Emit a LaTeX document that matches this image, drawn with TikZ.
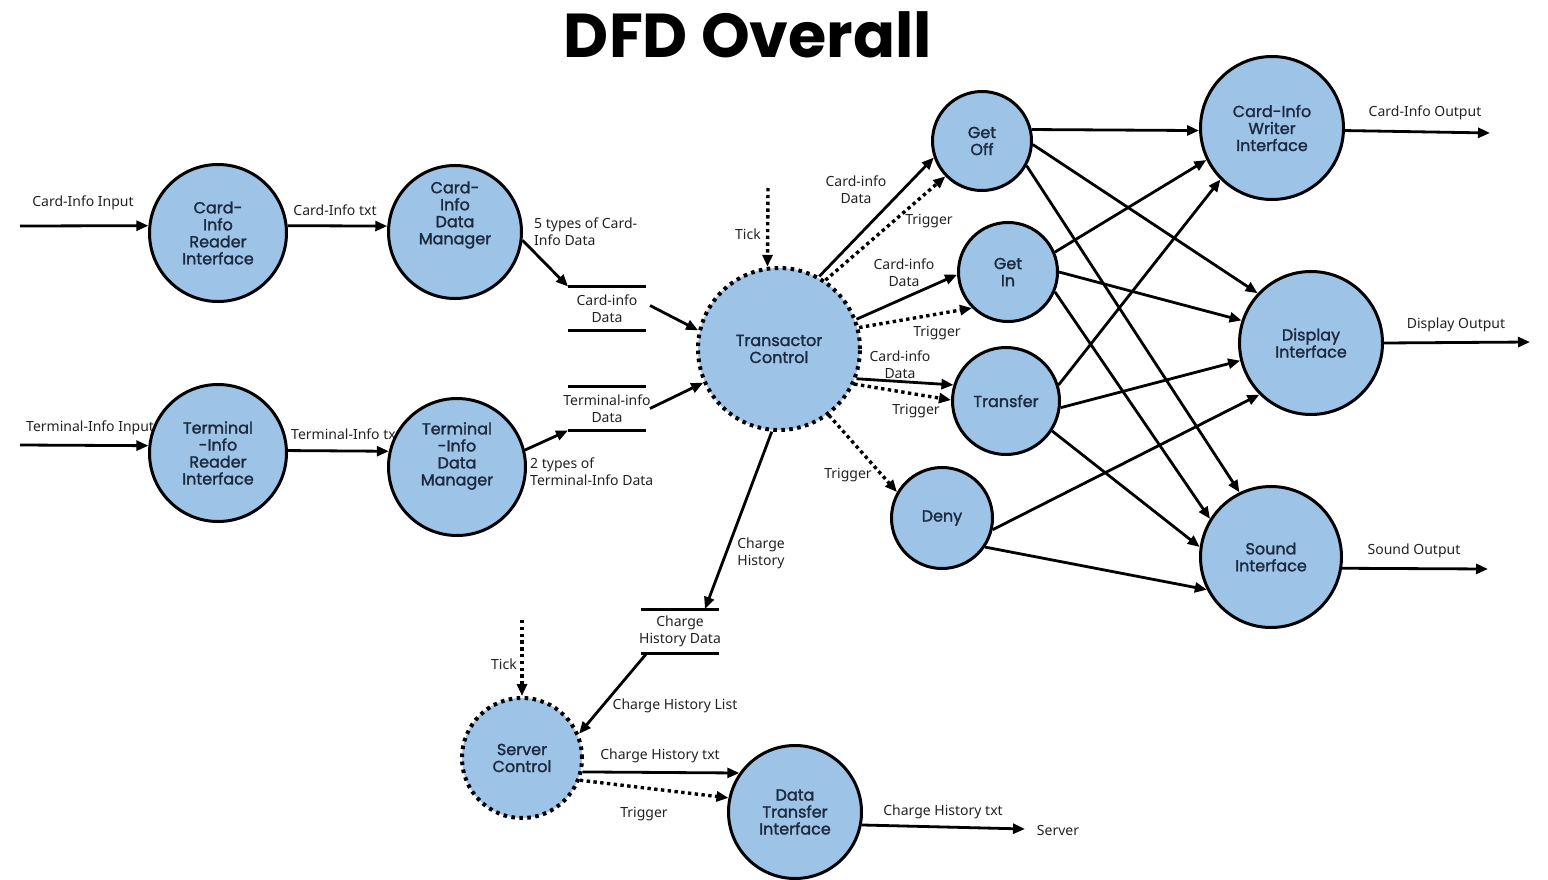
\documentclass[tikz,border=0pt]{standalone}
\usepackage{fontspec}
\usetikzlibrary{arrows.meta,calc}
\setmainfont{Noto Sans}
\newfontfamily\titlefont{Poppins}
\newfontfamily\nodefont{Poppins}[FakeBold=1.6]
\newfontfamily\lblfont{Noto Sans}
\definecolor{procblue}{HTML}{9DC3E6}
\definecolor{proctext}{HTML}{1C2A40}
\definecolor{lbltext}{HTML}{222222}

\tikzset{
  ptext/.style={text=proctext, align=center, inner sep=0pt,
    font=\nodefont\fontsize{16}{17}\selectfont},
  proc/.style={circle, draw=black, line width=3pt, fill=procblue,
    minimum size=#1, ptext},
  ctrl/.style={proc=#1, dash pattern=on 3.6pt off 4.4pt, line width=4pt},
  flow/.style={line width=2.8pt, -{Triangle[length=12pt,width=10pt]}},
  trig/.style={line width=3.4pt, dash pattern=on 3.4pt off 3.4pt,
    -{Triangle[length=12pt,width=10pt]}},
  lbl/.style={inner sep=0pt, align=center, text=lbltext,
    font=\lblfont\fontsize{14}{17}\selectfont},
  store/.style={lbl},
  storeline/.style={line width=3pt},
}

\begin{document}
\begin{tikzpicture}[x=1pt,y=-1pt]
\useasboundingbox (0,0) rectangle (1548,880);

% title
\node[font=\titlefont\bfseries\fontsize{62}{62}\selectfont] (title) at (748,35) {DFD Overall};

% flow labels (drawn first so that the bubbles sit on top)
\node[lbl] (l-cin) at (83,203) {Card-Info Input};
\node[lbl] (l-ctxt) at (335,210) {Card-Info txt};
\node[lbl, anchor=west, align=left] (l-c5) at (534,232) {5 types of Card-\\Info Data};
\node[lbl, anchor=west] (l-tin) at (26,428) {Terminal-Info Input};
\node[lbl, anchor=west] (l-ttxt) at (291,434) {Terminal-Info txt};
\node[lbl, anchor=west, align=left] (l-t2) at (530,472) {2 types of\\Terminal-Info Data};
\node[lbl] (l-tick1) at (748,234) {Tick};
\node[lbl] (l-d1) at (856,190) {Card-info\\Data};
\node[lbl] (l-g1) at (929,221) {Trigger};
\node[lbl] (l-d2) at (904,273) {Card-info\\Data};
\node[lbl] (l-g2) at (937,333) {Trigger};
\node[lbl] (l-d3) at (900,365) {Card-info\\Data};
\node[lbl] (l-g3) at (916,411) {Trigger};
\node[lbl] (l-g4) at (848,475) {Trigger};
\node[lbl] (l-ch) at (761,553) {Charge\\History};
\node[lbl] (l-chl) at (675,706) {Charge History List};
\node[lbl] (l-tick2) at (504,664) {Tick};
\node[lbl] (l-cht1) at (660,756) {Charge History txt};
\node[lbl] (l-g5) at (644,814) {Trigger};
\node[lbl] (l-cht2) at (943,812) {Charge History txt};
\node[lbl] (srv) at (1058,830) {Server};
\node[lbl] (l-cout) at (1425,113) {Card-Info Output};
\node[lbl] (l-dout) at (1456,325) {Display Output};
\node[lbl] (l-sout) at (1414,551) {Sound Output};

% data stores
\node[store] (cs) at (607,308.5) {Card-info\\Data};
\node[store] (ts) at (607,408.5) {Terminal-info\\Data};
\node[store] (chs) at (680,631) {Charge\\History Data};
\foreach \s in {cs,ts,chs}{
  \draw[storeline] ($(\s)+(-39,-22)$) -- ($(\s)+(39,-22)$);
  \draw[storeline] ($(\s)+(-39,22)$) -- ($(\s)+(39,22)$);
}

% processes
\node[proc=137pt] (cr) at (218,233) {Card-\\Info\\Reader\\Interface};
\node[proc=133pt, label={[ptext,yshift=17pt]center:{Card-\\Info\\Data\\Manager}}] (cdm) at (455,232) {};
\node[proc=137pt] (tr) at (218,453) {Terminal\\-Info\\Reader\\Interface};
\node[proc=137pt, label={[ptext,yshift=11pt]center:{Terminal\\-Info\\Data\\Manager}}] (tdm) at (457,467) {};
\node[ctrl=162pt] (tc) at (779,349) {Transactor\\Control};
\node[proc=99pt] (goff) at (982,141) {Get\\Off};
\node[proc=99pt] (gin) at (1008,272) {Get\\In};
\node[proc=107pt] (xfer) at (1006,401) {Transfer};
\node[proc=101pt] (deny) at (942,518) {Deny};
\node[proc=143pt] (cw) at (1272,128) {Card-Info\\Writer\\Interface};
\node[proc=143pt] (disp) at (1311,343) {Display\\Interface};
\node[proc=141pt] (snd) at (1271,557) {Sound\\Interface};
\node[ctrl=120pt] (sc) at (522,758) {Server\\Control};
\node[proc=133pt] (dt) at (795,812) {Data\\Transfer\\Interface};

% free ends
\coordinate (cin) at (20,226);
\coordinate (tin) at (20,445);
\coordinate (tick1) at (768,188);
\coordinate (tick2) at (522,620);
\coordinate (cout) at (1490,133);
\coordinate (dout) at (1530,342);
\coordinate (sout) at (1488,569);
\coordinate (srvin) at (1025,829);

% input side
\draw[flow] (cin) -- (cr.174);
\draw[flow] (cr.6) -- (cdm.175);
\draw[flow] (cdm.-7) -- ($(cs)+(-39,-22)$);
\draw[flow] ($(cs)+(43,-3)$) -- (tc.167);
\draw[flow] (tin) -- (tr.174);
\draw[flow] (tr.2) -- (tdm.167);
\draw[flow] (tdm.14) -- ($(ts)+(-39,22)$);
\draw[flow] ($(ts)+(43,0)$) -- (tc.204);

% transactor control
\draw[trig] (tick1) -- (tc.98);
\draw[flow] (tc.61) -- (goff.199);
\draw[trig] (tc.56) -- (goff.224);
\draw[flow] (tc.21) -- (gin.183);
\draw[trig] (tc.15) -- (gin.225);
\draw[flow] (tc.-21) -- (xfer.163);
\draw[trig] (tc.-25) -- (xfer.179);
\draw[trig] (tc.-53) -- (deny.150);
\draw[flow] (tc.265) -- ($(chs)+(25,-22)$);

% server side
\draw[flow] ($(chs)+(-33,22)$) -- (sc.23);
\draw[trig] (tick2) -- (sc.90);
\draw[flow] (sc.-13) -- (dt.145);
\draw[trig] (sc.-21) -- (dt.168);
\draw[flow] (dt.-11) -- (srvin);

% transactions to output interfaces
\draw[flow] (goff.13) -- (cw.182);
\draw[flow] (goff.-4) -- (disp.137);
\draw[flow] (goff.-29) -- (snd.116);
\draw[flow] (gin.23) -- (cw.206);
\draw[flow] (gin.0) -- (disp.162);
\draw[flow] (gin.-23) -- (snd.148);
\draw[flow] (xfer.17) -- (cw.225);
\draw[flow] (xfer.-7) -- (disp.194);
\draw[flow] (xfer.-33) -- (snd.172);
\draw[flow] (deny.-13) -- (disp.225);
\draw[flow] (deny.-34) -- (snd.207);

% outputs
\draw[flow] (cw.-2) -- (cout);
\draw[flow] (disp.0) -- (dout);
\draw[flow] (snd.-9) -- (sout);
\end{tikzpicture}
\end{document}
